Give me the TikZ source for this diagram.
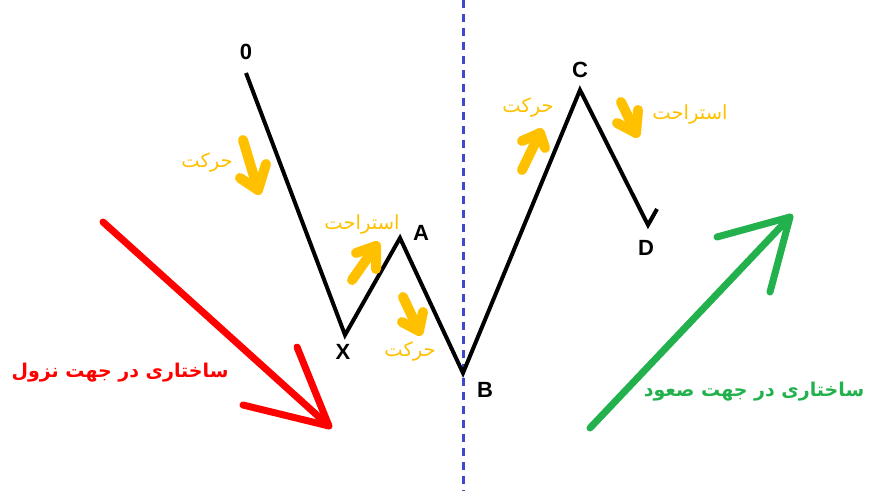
\documentclass[tikz,border=0pt]{standalone}
\usepackage{fontspec}
\setmainfont{Liberation Sans}
\TeXXeTstate=1
\newfontfamily\fa[Script=Arabic]{DejaVu Sans}
\definecolor{gold}{HTML}{FFC000}
\definecolor{redc}{HTML}{FF0000}
\definecolor{greenc}{HTML}{22B14C}
\definecolor{bluec}{HTML}{3F48CC}
\tikzset{
  wave/.style={line width=4pt, black, line join=miter},
  yarrow/.style={line width=10pt, gold, line cap=round, line join=round},
  bigarrow/.style={line width=7pt, line cap=round, line join=round},
  ptlabel/.style={font=\bfseries\fontsize{22}{22}\selectfont, inner sep=0pt},
  ytext/.style={text=gold, inner sep=0pt, font=\fa\fontsize{19.5}{19.5}\selectfont},
  bigtext/.style={inner sep=0pt, font=\fa\bfseries\fontsize{19}{19}\selectfont},
}
\begin{document}
\begin{tikzpicture}[x=1pt,y=-1pt]
\useasboundingbox (0,0) rectangle (870,491);
% dashed vertical
\coordinate (vt) at (463,0);
\coordinate (vb) at (463,491);
\draw[bluec, line width=3pt, dash pattern=on 8pt off 6pt] (vt) -- (vb);
% wave
\coordinate (p0) at (246,73);
\coordinate (pX) at (345,335);
\coordinate (pA) at (400,238);
\coordinate (pB) at (463,373);
\coordinate (pC) at (580,90);
\coordinate (pD) at (648,225);
\coordinate (pE) at (657,209);
\draw[wave] (p0) -- (pX) -- (pA) -- (pB) -- (pC) -- (pD) -- (pE);
% labels
\node[ptlabel] (l0) at (246,52) {0};
\node[ptlabel] (lX) at (343,352) {X};
\node[ptlabel] (lA) at (421,233) {A};
\node[ptlabel] (lB) at (485,390) {B};
\node[ptlabel] (lC) at (580,70) {C};
\node[ptlabel] (lD) at (646,248) {D};
% yellow arrows
\coordinate (y1s) at (243,140); \coordinate (y1t) at (258,190);
\coordinate (y1a) at (240,178); \coordinate (y1b) at (266,164);
\draw[yarrow] (y1s) -- (y1t); \draw[yarrow] (y1a) -- (y1t) -- (y1b);
\coordinate (y2s) at (352,280); \coordinate (y2t) at (376,246);
\coordinate (y2a) at (356,253); \coordinate (y2b) at (376,269);
\draw[yarrow] (y2s) -- (y2t); \draw[yarrow] (y2a) -- (y2t) -- (y2b);
\coordinate (y3s) at (403,297); \coordinate (y3t) at (419,331);
\coordinate (y3a) at (402,322); \coordinate (y3b) at (423,312);
\draw[yarrow] (y3s) -- (y3t); \draw[yarrow] (y3a) -- (y3t) -- (y3b);
\coordinate (y4s) at (522,170); \coordinate (y4t) at (540,133);
\coordinate (y4a) at (522,141); \coordinate (y4b) at (545,148);
\draw[yarrow] (y4s) -- (y4t); \draw[yarrow] (y4a) -- (y4t) -- (y4b);
\coordinate (y5s) at (621,102); \coordinate (y5t) at (636,133);
\coordinate (y5a) at (617,123); \coordinate (y5b) at (638,110);
\draw[yarrow] (y5s) -- (y5t); \draw[yarrow] (y5a) -- (y5t) -- (y5b);
% yellow texts
\node[ytext] (t1) at (207,162) {\beginR حرکت\endR};
\node[ytext] (t2) at (362,224) {\beginR استراحت\endR};
\node[ytext] (t3) at (410,351) {\beginR حرکت\endR};
\node[ytext] (t4) at (528,107) {\beginR حرکت\endR};
\node[ytext] (t5) at (690,114) {\beginR استراحت\endR};
% red arrow
\coordinate (rs) at (103,222); \coordinate (rt) at (329,426);
\coordinate (ra) at (297,347); \coordinate (rb) at (243,405);
\draw[bigarrow, redc] (rs) -- (rt); \draw[bigarrow, redc] (ra) -- (rt) -- (rb);
\node[bigtext, text=redc] (rtext) at (120,373) {\beginR ساختاری در جهت نزول\endR};
% green arrow
\coordinate (gs) at (590,428); \coordinate (gt) at (790,217);
\coordinate (ga) at (717,237); \coordinate (gb) at (770,292);
\draw[bigarrow, greenc] (gs) -- (gt); \draw[bigarrow, greenc] (ga) -- (gt) -- (gb);
\node[bigtext, text=greenc] (gtext) at (754,392) {\beginR ساختاری در جهت صعود\endR};
\end{tikzpicture}
\end{document}
